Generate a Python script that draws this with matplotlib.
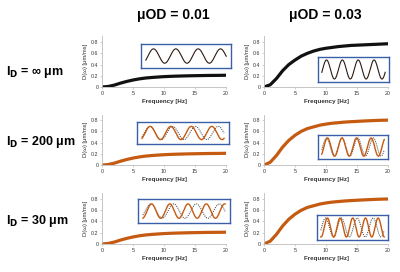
import matplotlib
matplotlib.use('Agg')
import matplotlib.pyplot as plt
import numpy as np

plt.rcParams['font.family'] = ['Liberation Sans', 'DejaVu Sans']

# Frequency axis [Hz]
freq = [0, 1, 2, 3, 4, 5, 6, 7, 8, 9, 10, 11, 12, 13, 14, 15, 16, 17, 18, 19, 20]

# D(w) curves [um/ms]
d_low = [0.0, 0.01, 0.035, 0.07, 0.10, 0.125, 0.145, 0.16, 0.17, 0.178, 0.185,
         0.19, 0.194, 0.197, 0.2, 0.202, 0.204, 0.206, 0.207, 0.208, 0.21]
d_high_top = [0.0, 0.04, 0.15, 0.29, 0.40, 0.48, 0.55, 0.60, 0.64, 0.67, 0.69,
              0.705, 0.72, 0.73, 0.74, 0.745, 0.75, 0.755, 0.76, 0.765, 0.77]
d_high = [0.0, 0.05, 0.17, 0.32, 0.44, 0.53, 0.60, 0.65, 0.68, 0.71, 0.73,
          0.745, 0.755, 0.765, 0.772, 0.778, 0.784, 0.789, 0.794, 0.798, 0.80]

row_labels = [r'I$_\mathbf{D}$ = ∞ μm', r'I$_\mathbf{D}$ = 200 μm', r'I$_\mathbf{D}$ = 30 μm']
col_titles = ['μOD = 0.01', 'μOD = 0.03']
yticks = [0, 0.2, 0.4, 0.6, 0.8]
xticks = [0, 5, 10, 15, 20]

# inset waves: cycles of solid wave, cycles of dotted reference, start phase, phase lag
inset_cycles = [[3.6, 4.0], [4.0, 4.3], [4.5, 5.0]]
inset_ref_cycles = [[3.6, 4.0], [3.6, 4.0], [3.6, 4.0]]
inset_phase = [[-0.6, -0.3], [-0.6, -0.3], [-0.6, -0.3]]
inset_lag = [[0.0, 0.0], [0.35, 0.6], [0.8, 1.4]]

black = '#111111'
orange = '#c55a11'
blue = '#3a5ea8'

fig = plt.figure(figsize=(4, 2.72), dpi=100)

lefts = [0.255, 0.66]
bottoms = [0.68, 0.393, 0.103]
inset_pos = [[[0.3525, 0.75, 0.225, 0.088], [0.795, 0.6985, 0.1775, 0.092]],
             [[0.3425, 0.4706, 0.23, 0.081], [0.795, 0.4154, 0.175, 0.088]],
             [[0.345, 0.180, 0.23, 0.088], [0.7925, 0.1176, 0.1775, 0.092]]]

for r in range(3):
    color = black if r == 0 else orange
    for c in range(2):
        ax = fig.add_axes([lefts[c], bottoms[r], 0.31, 0.186])
        if c == 0:
            y = d_low
        else:
            y = d_high_top if r == 0 else d_high
        ax.plot(freq, y, color=color, lw=2.3, solid_capstyle='round')
        ax.set_xlim(0, 20)
        ax.set_ylim(0, 0.9)
        ax.set_xticks(xticks)
        ax.set_yticks(yticks)
        ax.set_yticklabels(['0', '0.2', '0.4', '0.6', '0.8'])
        for s in ['top', 'right']:
            ax.spines[s].set_visible(False)
        for s in ['left', 'bottom']:
            ax.spines[s].set_color('#bbbbbb')
            ax.spines[s].set_linewidth(0.6)
        ax.tick_params(labelsize=3.8, length=1.2, width=0.5, color='#bbbbbb',
                       labelcolor='#333333', pad=1.5)
        ax.set_xlabel('Frequency [Hz]', fontsize=4.5, fontweight='bold',
                      color='#333333', labelpad=2)
        ax.set_ylabel('D(ω) [μm/ms]', fontsize=4.2, color='#333333', labelpad=2)

        # inset with waveforms
        ia = fig.add_axes(inset_pos[r][c])
        t = np.linspace(0, 1, 300)
        amp = 0.75 if c == 0 else 0.95
        if r > 0:
            ref = amp * np.sin(2 * np.pi * inset_ref_cycles[r][c] * t + inset_phase[r][c])
            ia.plot(t, ref, color='#333333', lw=0.7, ls=(0, (1, 1.2)))
        wave = amp * np.sin(2 * np.pi * inset_cycles[r][c] * t + inset_phase[r][c] - inset_lag[r][c])
        ia.plot(t, wave, color=color if r > 0 else '#2b1a10', lw=1.0 if r > 0 else 0.8)
        ia.set_xlim(-0.06, 1.06)
        ia.set_ylim(-1.25, 1.25)
        ia.set_xticks([])
        ia.set_yticks([])
        for s in ia.spines.values():
            s.set_color(blue)
            s.set_linewidth(1.0)

title_x = [0.4325, 0.8125]
for c in range(2):
    fig.text(title_x[c], 0.945, col_titles[c], ha='center', va='center',
             fontsize=10, fontweight='bold')

label_y = [0.735, 0.478, 0.1875]
for r in range(3):
    fig.text(0.015, label_y[r], row_labels[r], ha='left', va='center',
             fontsize=9, fontweight='bold')

fig.savefig('out.png', dpi=100)
